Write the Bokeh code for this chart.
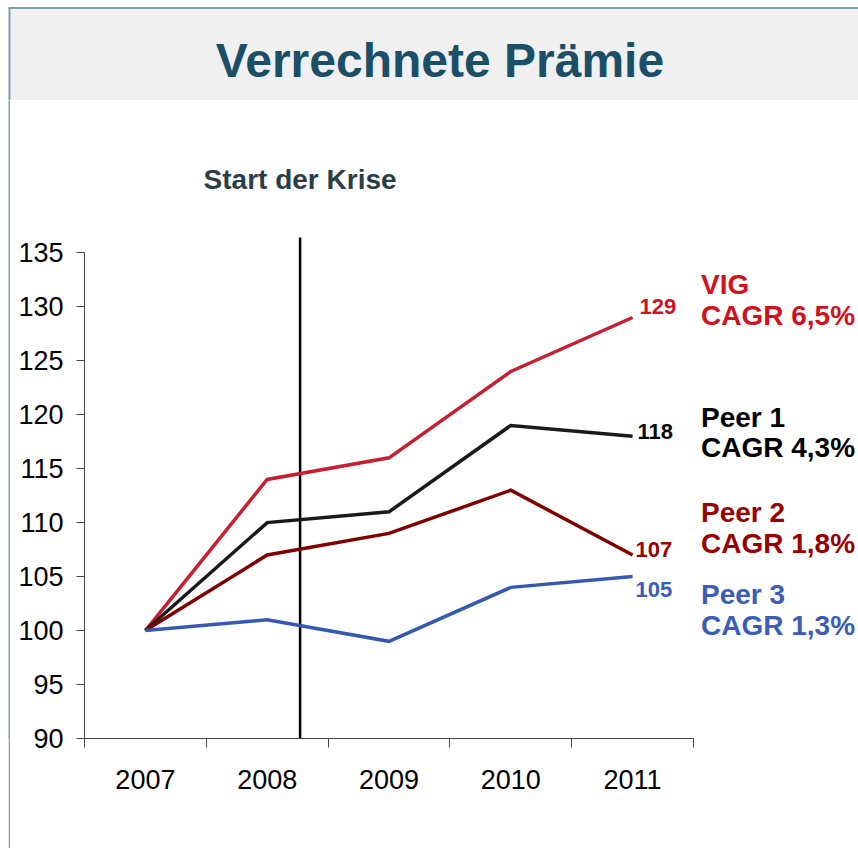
from bokeh.plotting import figure
from bokeh.layouts import column, row
from bokeh.models import Range1d, FixedTicker, ColumnDataSource, Spacer
from bokeh.embed import file_html
from bokeh.resources import INLINE
from bokeh.core.properties import value

# ---------------- data ----------------
years = ["2007", "2008", "2009", "2010", "2011"]
series_names = ["VIG", "Peer 1", "Peer 2", "Peer 3"]
vig = [100, 114, 116, 124, 129]
peer1 = [100, 110, 111, 119, 118]
peer2 = [100, 107, 109, 113, 107]
peer3 = [100, 101, 99, 104, 105]
cagr_labels = ["CAGR 6,5%", "CAGR 4,3%", "CAGR 1,8%", "CAGR 1,3%"]
y_ticks = [90, 95, 100, 105, 110, 115, 120, 125, 130, 135]
title_text = "Verrechnete Prämie"
crisis_text = "Start der Krise"
crisis_pos = 2.27  # category position of the crisis marker (late 2008)

# ---------------- styles / layout ----------------
FONT = "Liberation Sans"
BORDER = "#7F9DB0"
line_colors = ["#C81E32", "#1A1A1A", "#800000", "#3559B0"]
text_colors = ["#D0111E", "#000000", "#9A0000", "#3A5DB8"]
value_dx = [7, 5, 3, 3]           # px offsets of end-value labels
value_dy = [-11, -5, -5, 13]
name_centers = [(284, 315), (417, 447), (512, 543), (594, 625)]  # page px (text middles)
name_left = 700.5

PAGE_W, PAGE_H = 858, 848
BAND_H = 100          # height of the title band figure
GAP_W = 8             # white space left of the border line
LINE_W = 2            # border line width
AX_LEFT = 84          # page x of y axis
AX_BOTTOM = 738.3     # page y of x axis
PX_PER_CAT = 121.8
PX_PER_UNIT = 10.8

# ---------------- title band ----------------
top = figure(width=PAGE_W, height=BAND_H, output_backend="svg", toolbar_location=None,
             x_range=Range1d(0, PAGE_W), y_range=Range1d(BAND_H, 0),
             x_axis_type=None, y_axis_type=None, min_border=0,
             outline_line_color=None, background_fill_color="white", border_fill_color="white")
top.grid.visible = False
top.quad(left=[GAP_W], right=[PAGE_W], top=[7], bottom=[BAND_H],
         fill_color="#F0F0F0", line_color=None)
top.segment(x0=[GAP_W + 1, GAP_W], y0=[7, 7.5], x1=[GAP_W + 1, PAGE_W], y1=[BAND_H, 7.5],
            line_color=BORDER, line_width=LINE_W)
top.text(x=[439.5], y=[60], text=[title_text], text_align="center", text_baseline="middle",
         text_font=value(FONT), text_font_size="48px", text_font_style="bold", text_color="#1B4F68")

# ---------------- left border line ----------------
MAIN_H = PAGE_H - BAND_H
gap = Spacer(width=GAP_W, height=MAIN_H)
strip = figure(width=LINE_W, height=MAIN_H, output_backend="svg", toolbar_location=None,
               x_range=Range1d(0, 1), y_range=Range1d(0, 1),
               x_axis_type=None, y_axis_type=None, min_border=0,
               outline_line_color=None, background_fill_color=BORDER, border_fill_color=BORDER)
strip.grid.visible = False

# ---------------- main chart ----------------
MAIN_W = PAGE_W - GAP_W - LINE_W
FL = AX_LEFT - GAP_W - LINE_W
FB = PAGE_H - AX_BOTTOM
FW = MAIN_W - FL
FH = MAIN_H - FB
X0 = 0.5
X1 = X0 + FW / PX_PER_CAT
Y0 = min(y_ticks)
Y1 = Y0 + FH / PX_PER_UNIT


def dx(page_x):
    return X0 + (page_x - AX_LEFT) / PX_PER_CAT


def dy(page_y):
    return Y0 + (AX_BOTTOM - page_y) / PX_PER_UNIT


p = figure(width=MAIN_W, height=MAIN_H, output_backend="svg", toolbar_location=None,
           x_range=Range1d(X0, X1), y_range=Range1d(Y0, Y1),
           min_border_left=int(FL), min_border_right=0, min_border_top=0, min_border_bottom=int(round(FB)),
           background_fill_color="white", border_fill_color="white", outline_line_color=None)
p.grid.visible = False

xs = [i + 1 for i in range(len(years))]
xa = p.xaxis[0]
xa.ticker = FixedTicker(ticks=xs, minor_ticks=[i + 0.5 for i in range(len(years) + 1)])
xa.bounds = (0.5, len(years) + 0.5)
xa.major_label_overrides = {x: y for x, y in zip(xs, years)}
xa.major_tick_line_color = None
xa.major_tick_out = 0
xa.major_tick_in = 0
xa.minor_tick_out = 9
xa.minor_tick_in = 0
xa.minor_tick_line_color = "#444444"
xa.axis_line_color = "#444444"
xa.major_label_text_font = FONT
xa.major_label_text_font_size = "27px"
xa.major_label_text_color = "black"
xa.major_label_standoff = 22

ya = p.yaxis[0]
ya.ticker = FixedTicker(ticks=y_ticks, minor_ticks=[])
ya.bounds = (min(y_ticks), max(y_ticks))
ya.major_tick_out = 8
ya.major_tick_in = 0
ya.major_tick_line_color = "#444444"
ya.minor_tick_line_color = None
ya.axis_line_color = "#444444"
ya.major_label_text_font = FONT
ya.major_label_text_font_size = "27px"
ya.major_label_text_color = "black"
ya.major_label_standoff = 13

# crisis marker
p.segment(x0=[crisis_pos], y0=[Y0], x1=[crisis_pos], y1=[dy(237)], line_color="black", line_width=2.5)
p.text(x=[crisis_pos], y=[dy(179.5)], text=[crisis_text], text_align="center", text_baseline="middle",
       text_font=value(FONT), text_font_size="28px", text_font_style="bold", text_color="#2B3E48")

# series
all_series = [vig, peer1, peer2, peer3]
for vals, col in zip(all_series, line_colors):
    p.line(x=xs, y=vals, line_color=col, line_width=3.5, line_join="miter")

src = ColumnDataSource(dict(
    x=[xs[-1]] * len(all_series),
    y=[s[-1] for s in all_series],
    text=[str(s[-1]) for s in all_series],
    color=text_colors, xo=value_dx, yo=value_dy))
p.text(x="x", y="y", text="text", source=src, text_color="color", x_offset="xo", y_offset="yo",
       text_align="left", text_baseline="middle", text_font=value(FONT),
       text_font_size="22px", text_font_style="bold")

name_src = ColumnDataSource(dict(
    x=[dx(name_left)] * (2 * len(series_names)),
    y=[dy(c) for pair in name_centers for c in pair],
    text=[t for pair in zip(series_names, cagr_labels) for t in pair],
    color=[c for c in text_colors for _ in range(2)]))
p.text(x="x", y="y", text="text", source=name_src, text_color="color",
       text_align="left", text_baseline="middle", text_font=value(FONT),
       text_font_size="28px", text_font_style="bold")

layout = column(top, row(gap, strip, p, spacing=0), spacing=0)
open("out.html", "w").write(file_html(layout, INLINE))
